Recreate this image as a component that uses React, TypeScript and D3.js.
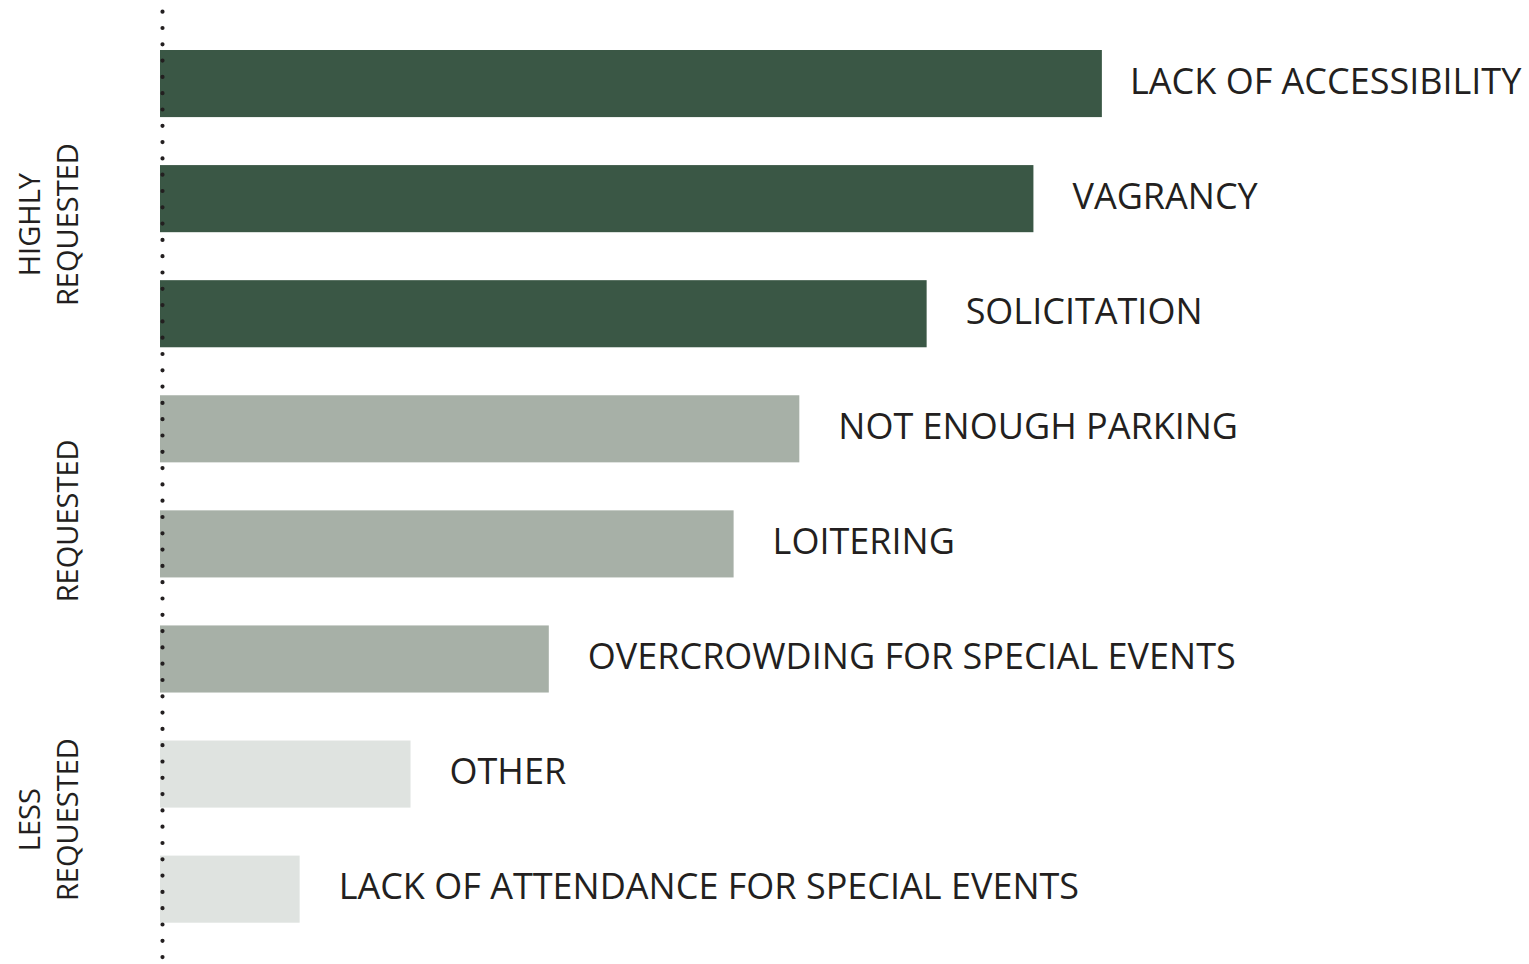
import * as d3 from "d3"

const categories = [
  "LACK OF ACCESSIBILITY",
  "VAGRANCY",
  "SOLICITATION",
  "NOT ENOUGH PARKING",
  "LOITERING",
  "OVERCROWDING FOR SPECIAL EVENTS",
  "OTHER",
  "LACK OF ATTENDANCE FOR SPECIAL EVENTS",
]
const values = [68.8, 63.8, 56.0, 46.7, 41.9, 28.4, 18.3, 10.2]
const levels = ["high", "high", "high", "mid", "mid", "mid", "low", "low"]

const groupKeys = ["high", "mid", "low"]
const groupLabels = [["HIGHLY", "REQUESTED"], ["REQUESTED"], ["LESS", "REQUESTED"]]

const width = 1529
const height = 964
const margin = { top: 50, left: 160 }
const textColor = "#231f20"
const colors: Record<string, string> = { high: "#3a5745", mid: "#a7b0a7", low: "#dfe3e0" }
const groupLabelShift = [26, -23, -12]
const font = "'Open Sans', sans-serif"

export default function App() {
  const x = d3.scaleLinear().domain([0, 100]).range([margin.left, width])
  const y = d3
    .scaleBand()
    .domain(categories)
    .range([margin.top, 922.7])
    .paddingInner(0.417)
    .paddingOuter(0)

  // dotted axis line
  const axisTop = 11.7
  const axisBottom = 959

  return (
    <svg
      width={width}
      height={height}
      style={{ position: "absolute", left: 0, top: 0, background: "#fff" }}
    >
      {categories.map((c, i) => {
        const y0 = y(c) || 0
        const xEnd = x(values[i])
        return (
          <g key={c}>
            <rect
              x={x(0)}
              y={y0}
              width={xEnd - x(0)}
              height={y.bandwidth()}
              fill={colors[levels[i]]}
            />
            <text
              x={Math.min(xEnd + 39, 1130)}
              y={y0 + y.bandwidth() / 2 + 10}
              fontFamily={font}
              fontSize={36}
              fill={textColor}
            >
              {c}
            </text>
          </g>
        )
      })}

      <line
        x1={162.5}
        x2={162.5}
        y1={axisTop}
        y2={axisBottom}
        stroke="#231f20"
        strokeWidth={4.2}
        strokeLinecap="round"
        strokeDasharray="0 16.3"
      />

      {groupKeys.map((k, gi) => {
        const members = categories.filter((_, i) => levels[i] === k)
        const top = y(members[0]) || 0
        const bottom = (y(members[members.length - 1]) || 0) + y.bandwidth()
        const cy = (top + bottom) / 2 + groupLabelShift[gi]
        const lines = groupLabels[gi]
        const baseX = 78
        return (
          <text
            key={k}
            transform={`translate(${baseX}, ${cy}) rotate(-90)`}
            textAnchor="middle"
            fontFamily={font}
            fontSize={29}
            fill={textColor}
          >
            {lines.map((l, li) => (
              <tspan key={l} x={0} y={-(lines.length - 1 - li) * 38}>
                {l}
              </tspan>
            ))}
          </text>
        )
      })}
    </svg>
  )
}
